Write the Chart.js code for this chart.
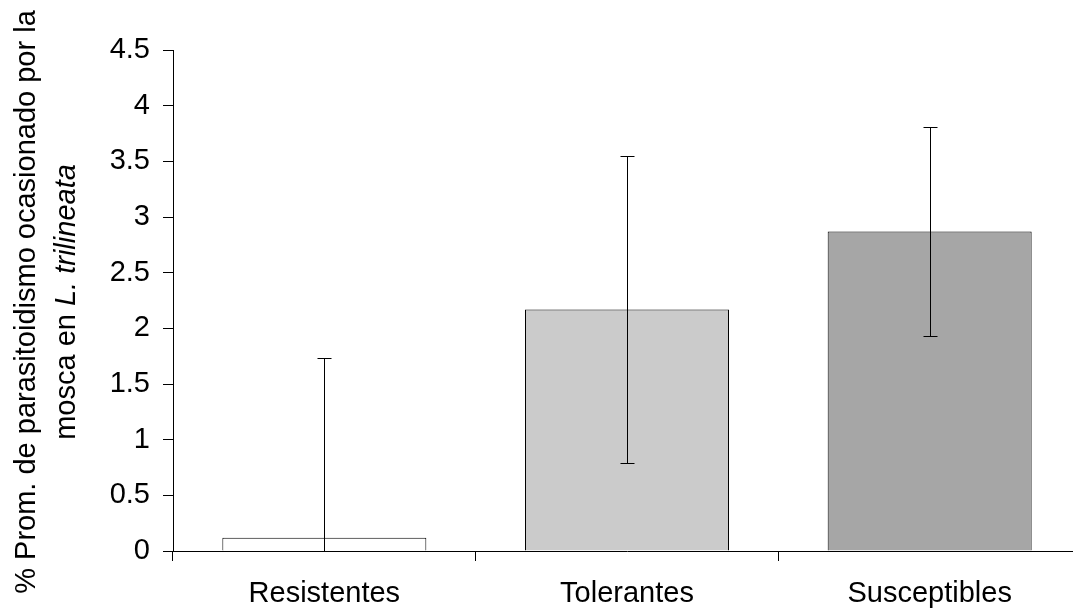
<!DOCTYPE html>
<html>
<head>
<meta charset="utf-8">
<script src="https://cdn.jsdelivr.net/npm/chart.js@4/dist/chart.umd.min.js"></script>
<style>
  html, body { margin: 0; padding: 0; overflow: hidden; background: #fff; }
  #wrap { position: relative; width: 1081px; height: 613px; }
</style>
</head>
<body>
<div id="wrap"><canvas id="c"></canvas></div>
<script>
// ---- data ----
const categories = ['Resistentes', 'Tolerantes', 'Susceptibles'];
const means = [0.12, 2.17, 2.87];
const errors = [1.61, 1.38, 0.94];
const barColors = ['#FFFFFF', '#CBCBCB', '#A6A6A6'];
const yTickValues = [0, 0.5, 1, 1.5, 2, 2.5, 3, 3.5, 4, 4.5];
const yTickLabels = ['0', '0.5', '1', '1.5', '2', '2.5', '3', '3.5', '4', '4.5'];
const titleLine1 = '% Prom. de parasitoidismo ocasionado por la';
const titleLine2a = 'mosca en ';
const titleLine2b = 'L. trilineata';

const FONT = 'Liberation Sans, Arial, sans-serif';
const FS = 29;

const errorBarPlugin = {
  id: 'errorBars',
  afterDatasetsDraw(chart) {
    const ctx = chart.ctx;
    const meta = chart.getDatasetMeta(0);
    const y = chart.scales.y;
    const area = chart.chartArea;
    ctx.save();
    ctx.strokeStyle = '#000';
    ctx.lineWidth = 1;
    meta.data.forEach((bar, i) => {
      const x = Math.round(bar.x) + 0.5;
      const hiV = means[i] + errors[i];
      const loV = means[i] - errors[i];
      const yHi = Math.round(y.getPixelForValue(hiV)) + 0.5;
      const yLo = loV >= 0 ? Math.round(y.getPixelForValue(loV)) + 0.5 : area.bottom;
      ctx.beginPath();
      ctx.moveTo(x, yHi);
      ctx.lineTo(x, yLo);
      ctx.moveTo(x - 7, yHi);
      ctx.lineTo(x + 7, yHi);
      if (loV >= 0) {
        ctx.moveTo(x - 7, yLo);
        ctx.lineTo(x + 7, yLo);
      }
      ctx.stroke();
    });
    ctx.restore();
  }
};

const titlePlugin = {
  id: 'yTitle',
  afterDraw(chart) {
    const ctx = chart.ctx;
    const cy = 302;
    ctx.save();
    ctx.fillStyle = '#000';
    ctx.textBaseline = 'alphabetic';
    // line 1
    ctx.save();
    ctx.translate(35, cy);
    ctx.rotate(-Math.PI / 2);
    ctx.font = FS + 'px ' + FONT;
    ctx.textAlign = 'center';
    ctx.fillText(titleLine1, 0, 0);
    ctx.restore();
    // line 2 (mixed style)
    ctx.save();
    ctx.translate(75, cy);
    ctx.rotate(-Math.PI / 2);
    ctx.textAlign = 'left';
    ctx.font = FS + 'px ' + FONT;
    const wa = ctx.measureText(titleLine2a).width;
    ctx.font = 'italic ' + FS + 'px ' + FONT;
    const wb = ctx.measureText(titleLine2b).width;
    const start = -(wa + wb) / 2;
    ctx.font = FS + 'px ' + FONT;
    ctx.fillText(titleLine2a, start, 0);
    ctx.font = 'italic ' + FS + 'px ' + FONT;
    ctx.fillText(titleLine2b, start + wa, 0);
    ctx.restore();
    ctx.restore();
  }
};

new Chart(document.getElementById('c'), {
  type: 'bar',
  data: {
    labels: categories,
    datasets: [{
      data: means,
      backgroundColor: barColors,
      borderColor: '#000',
      borderWidth: 1,
      barPercentage: 0.674,
      categoryPercentage: 1.0
    }]
  },
  options: {
    responsive: true,
    maintainAspectRatio: false,
    animation: false,
    devicePixelRatio: 1,
    layout: { padding: { top: 50, right: 0, bottom: 0, left: 0 } },
    plugins: {
      legend: { display: false },
      tooltip: { enabled: false },
      title: { display: false }
    },
    scales: {
      x: {
        offset: true,
        grid: {
          display: true,
          offset: true,
          drawOnChartArea: false,
          drawTicks: true,
          tickLength: 10,
          color: '#000',
          lineWidth: 1
        },
        border: { display: true, color: '#000', width: 1 },
        ticks: {
          font: { family: FONT, size: FS },
          color: '#000',
          padding: 16,
          maxRotation: 0,
          autoSkip: false
        },
        afterFit(scale) { scale.height = 62; }
      },
      y: {
        min: 0,
        max: 4.5,
        afterBuildTicks(scale) {
          scale.ticks = yTickValues.map(v => ({ value: v }));
        },
        grid: {
          display: true,
          drawOnChartArea: false,
          drawTicks: true,
          tickLength: 10,
          color: '#000',
          lineWidth: 1
        },
        border: { display: true, color: '#000', width: 1 },
        ticks: {
          font: { family: FONT, size: FS },
          color: '#000',
          padding: 13,
          callback(value, index) { return yTickLabels[index]; }
        },
        afterFit(scale) { scale.width = 173; }
      }
    }
  },
  plugins: [errorBarPlugin, titlePlugin]
});
</script>
</body>
</html>
